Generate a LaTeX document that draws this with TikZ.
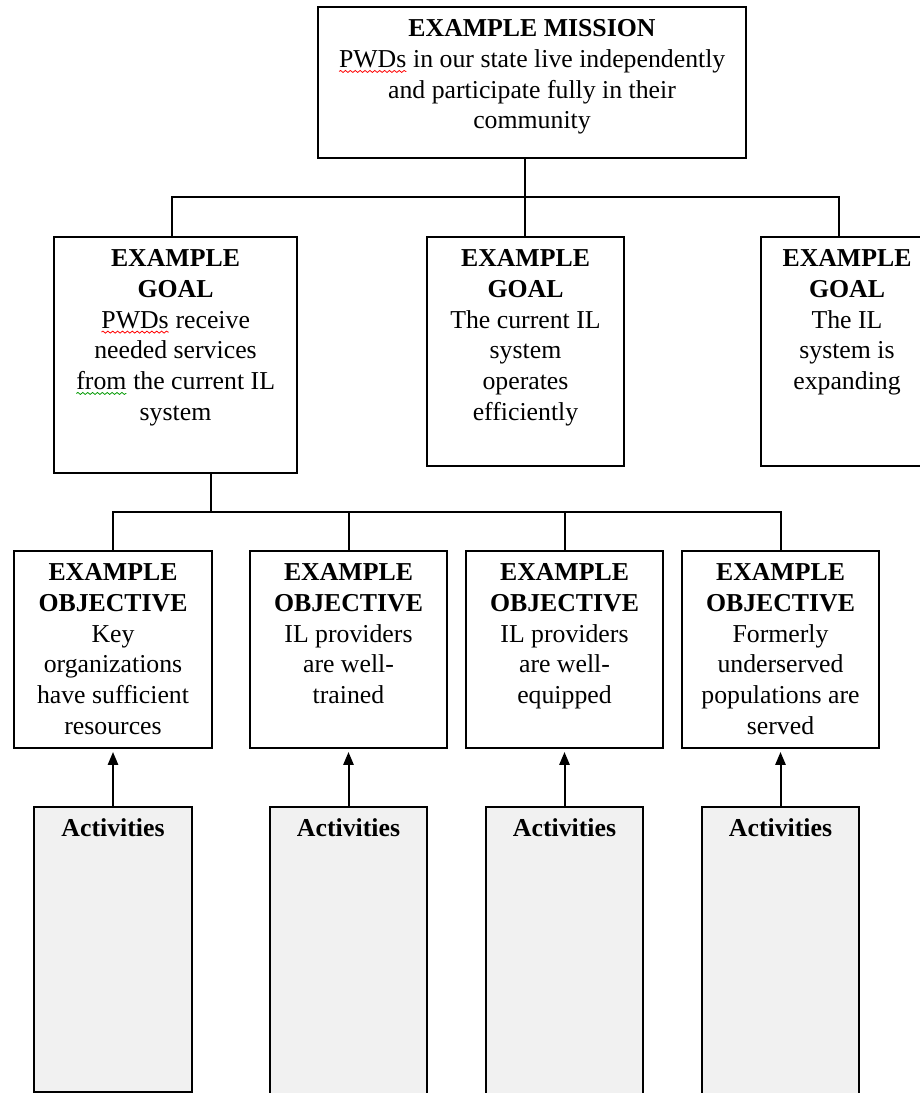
\documentclass[tikz,border=0pt]{standalone}
\usepackage{fontspec}
\setmainfont{Liberation Serif}
\usetikzlibrary{arrows.meta,decorations.pathmorphing}
\definecolor{actfill}{HTML}{F1F1F1}
\newdimen\upx \upx=0.45pt
\newcommand\boxtext[3]{\parbox[t][#2\upx][t]{#1\upx}{\centering\rule{0pt}{13.4pt}#3}}
\newcommand\squig[2]{\tikz[baseline=(sq.base)]{\node[draw=none,fill=none,inner sep=0pt,outer sep=0pt,anchor=base] (sq) {#2};
	\draw[#1,fill=none,line width=0.35pt,decorate,decoration={snake,amplitude=0.45pt,segment length=2.2pt}] ([yshift=-1.8pt]sq.base west) -- ([yshift=-1.8pt]sq.base east);}}
\tikzset{
	blockbox/.style={draw, line width=0.9pt, inner sep=0pt, outer sep=0pt, anchor=north west, fill=white},
	actbox/.style={blockbox, fill=actfill},
	treeline/.style={line width=0.9pt},
	arrowline/.style={line width=0.9pt, -{Triangle[length=5.8pt,width=4.6pt]}, shorten >=1.8pt}
}

\begin{document}
\begin{tikzpicture}[x=0.45pt, y=-0.45pt, font=\fontsize{11.6}{13.8}\selectfont]
			%%%%% START %%%%%
			\useasboundingbox (0, 0) rectangle (920, 1093);
			
			\node[blockbox] (mission) at (318, 7) {\boxtext{428}{151}{\textbf{EXAMPLE MISSION}\\ \squig{red}{PWDs} in our state live independently\\ and participate fully in their\\ community}};
			
			\node[blockbox] (goalA) at (54, 237) {\boxtext{243}{236}{\textbf{EXAMPLE}\\ \textbf{GOAL}\\ \squig{red}{PWDs} receive\\ needed services\\ \squig{green!60!black}{from} the current IL\\ system}};
			\node[blockbox] (goalB) at (427, 237) {\boxtext{197}{229}{\textbf{EXAMPLE}\\ \textbf{GOAL}\\ The current IL\\ system\\ operates\\ efficiently}};
			\node[blockbox] (goalC) at (761, 237) {\boxtext{172}{229}{\textbf{EXAMPLE}\\ \textbf{GOAL}\\ The IL\\ system is\\ expanding}};
			
			\node[blockbox] (objA) at (14, 551) {\boxtext{198}{197}{\textbf{EXAMPLE}\\ \textbf{OBJECTIVE}\\ Key\\ organizations\\ have sufficient\\ resources}};
			\node[blockbox] (objB) at (250, 551) {\boxtext{197}{197}{\textbf{EXAMPLE}\\ \textbf{OBJECTIVE}\\ IL providers\\ are well-\\ trained}};
			\node[blockbox] (objC) at (466, 551) {\boxtext{197}{197}{\textbf{EXAMPLE}\\ \textbf{OBJECTIVE}\\ IL providers\\ are well-\\ equipped}};
			\node[blockbox] (objD) at (682, 551) {\boxtext{197}{197}{\textbf{EXAMPLE}\\ \textbf{OBJECTIVE}\\ Formerly\\ underserved\\ populations are\\ served}};
			
			\node[actbox] (actA) at (34, 807) {\boxtext{158}{285}{\textbf{Activities}}};
			\node[actbox] (actB) at (270, 807) {\boxtext{157}{300}{\textbf{Activities}}};
			\node[actbox] (actC) at (486, 807) {\boxtext{157}{300}{\textbf{Activities}}};
			\node[actbox] (actD) at (702, 807) {\boxtext{157}{300}{\textbf{Activities}}};
			
			% mission to goals
			\coordinate (busG) at (525, 197);
			\coordinate (legA) at (172, 197);
			\coordinate (legC) at (839, 197);
			\draw[treeline] (busG |- mission.south) -- (busG |- goalB.north);
			\draw[treeline] (legA |- goalA.north) -- (legA) -- (legC) -- (legC |- goalC.north);
			
			% goal to objectives
			\coordinate (busO) at (211, 512);
			\draw[treeline] (busO |- goalA.south) -- (busO);
			\draw[treeline] (objA.north) |- (busO) -| (objD.north);
			\draw[treeline] (objB.north) -- (objB.north |- busO);
			\draw[treeline] (objC.north) -- (objC.north |- busO);
			
			% activities
			\draw[arrowline] (actA.north) -- (objA.south);
			\draw[arrowline] (actB.north) -- (objB.south);
			\draw[arrowline] (actC.north) -- (objC.south);
			\draw[arrowline] (actD.north) -- (objD.south);
			
			%%%%% END %%%%%
\end{tikzpicture}
\end{document}
